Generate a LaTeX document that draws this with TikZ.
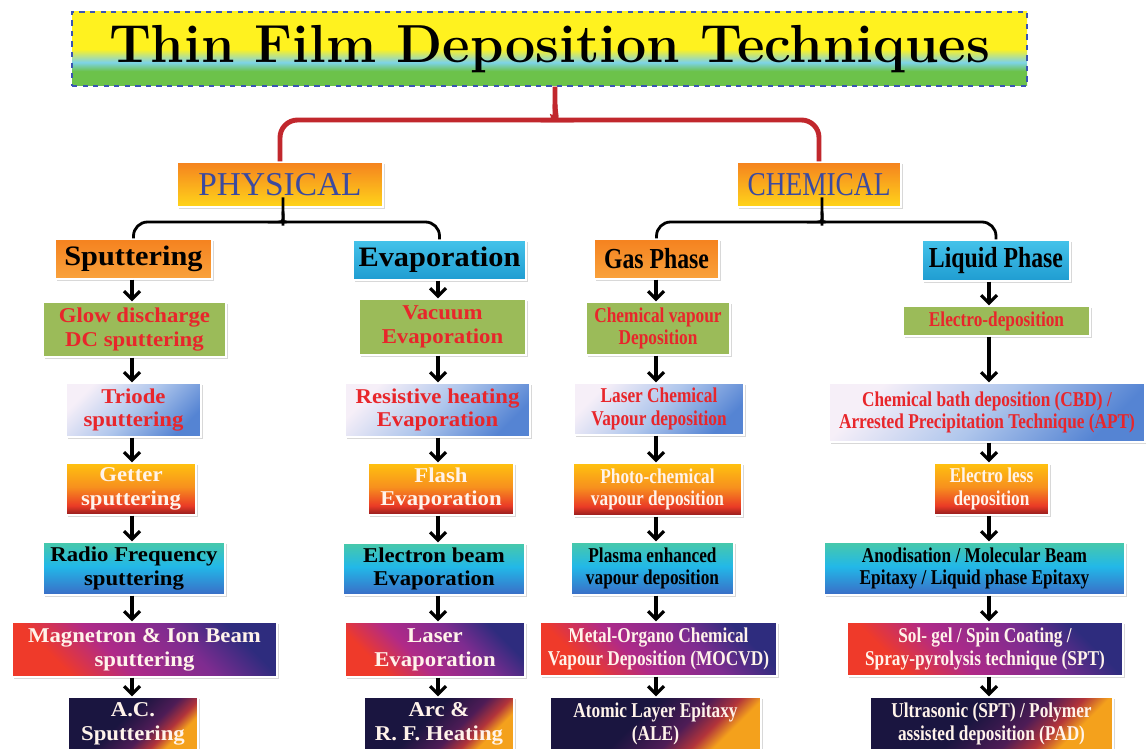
\documentclass[tikz,border=0pt]{standalone}
\usepackage{fontspec}
\newfontfamily\narrowfont[FakeStretch=0.82]{Liberation Serif}
\newfontfamily\widefont[FakeStretch=1.08]{Liberation Serif}
\newfontfamily\timesfont{Liberation Serif}
\usetikzlibrary{arrows.meta,shadows}

\definecolor{tyellow}{HTML}{FFF21F}
\definecolor{tcyan}{HTML}{7DD3E8}
\definecolor{tgreen}{HTML}{6CC24A}
\definecolor{titleblue}{HTML}{3A55B4}
\definecolor{bracered}{HTML}{C1272D}
\definecolor{horange}{HTML}{F5821F}
\definecolor{hyellow}{HTML}{FFD51A}
\definecolor{hlight}{HTML}{F9A23C}
\definecolor{hcyantop}{HTML}{45C3EA}
\definecolor{hcyanbot}{HTML}{1F9CD1}
\definecolor{headblue}{HTML}{3B4AA0}
\definecolor{leaf}{HTML}{9BBB59}
\definecolor{redtext}{HTML}{E8262B}
\definecolor{cream}{HTML}{FFF3EA}
\definecolor{lavwhite}{HTML}{F6EFF8}
\definecolor{lavmid}{HTML}{AFC6EC}
\definecolor{lavblue}{HTML}{5584D3}
\definecolor{hotdark}{HTML}{8E1B1E}
\definecolor{hotred}{HTML}{EA3B26}
\definecolor{hotorange}{HTML}{F7901E}
\definecolor{hotyellow}{HTML}{FFC20F}
\definecolor{cyblue}{HTML}{3B6CC6}
\definecolor{cycyan}{HTML}{22B8E8}
\definecolor{cyteal}{HTML}{48C9A9}
\definecolor{pred}{HTML}{EF3A2A}
\definecolor{pmag}{HTML}{B02A88}
\definecolor{pviolet}{HTML}{7E2C90}
\definecolor{pblue}{HTML}{2E2C7E}
\definecolor{dorange}{HTML}{F4A11C}
\definecolor{dred}{HTML}{B2343A}
\definecolor{dplum}{HTML}{4E1C56}
\definecolor{dnavy}{HTML}{1A1540}

\pgfdeclareverticalshading{titleshade}{100bp}{color(0bp)=(tgreen); color(35bp)=(tgreen); color(41bp)=(tcyan); color(50bp)=(tyellow); color(100bp)=(tyellow)}
\pgfdeclareverticalshading{lavshade}{100bp}{color(0bp)=(lavblue); color(25bp)=(lavblue); color(50bp)=(lavmid); color(75bp)=(lavwhite); color(100bp)=(lavwhite)}
\pgfdeclareverticalshading{hotshade}{100bp}{color(0bp)=(hotdark); color(25bp)=(hotdark); color(34bp)=(hotred); color(52bp)=(hotorange); color(75bp)=(hotyellow); color(100bp)=(hotyellow)}
\pgfdeclareverticalshading{cyanshade}{100bp}{color(0bp)=(cyblue); color(25bp)=(cyblue); color(52bp)=(cycyan); color(75bp)=(cyteal); color(100bp)=(cyteal)}
\pgfdeclareverticalshading{purpshade}{100bp}{color(0bp)=(pred); color(28bp)=(pred); color(42bp)=(pmag); color(60bp)=(pviolet); color(74bp)=(pblue); color(100bp)=(pblue)}
\pgfdeclareverticalshading{darkshade}{100bp}{color(0bp)=(dorange); color(28bp)=(dorange); color(34bp)=(dred); color(42bp)=(dplum); color(56bp)=(dnavy); color(100bp)=(dnavy)}

\tikzset{
	boxsize/.style 2 args={minimum width=#1*0.02cm,minimum height=#2*0.02cm},
	box/.style={draw=white,line width=0.8pt,inner sep=0pt,align=center,
		drop shadow={shadow xshift=1.2pt,shadow yshift=-1.2pt,fill=black!30}},
	lefttext/.style={font=\widefont\bfseries\fontsize{12}{13.5}\selectfont},
	righttext/.style={font=\narrowfont\bfseries\fontsize{12}{13}\selectfont},
	greenbox/.style={box,fill=leaf,text=redtext},
	lavbox/.style={box,shading=lavshade,shading angle=45,text=redtext},
	hotbox/.style={box,shading=hotshade,text=cream},
	cyanbox/.style={box,shading=cyanshade,text=black},
	purpbox/.style={box,shading=purpshade,shading angle=-45,text=cream},
	darkbox/.style={box,shading=darkshade,shading angle=45,text=cream},
	mainhead/.style={box,top color=horange,bottom color=hyellow,text=headblue},
	orangehead/.style={box,top color=horange,bottom color=hlight,text=black},
	cyanhead/.style={box,top color=hcyantop,bottom color=hcyanbot,text=black},
	arr/.style={line width=1.8pt,-{Straight Barb[length=4.5pt,width=9pt]}},
	redbrace/.style={draw=bracered,line width=2.8pt,rounded corners=10pt},
	blackbrace/.style={draw=black,line width=1.6pt,rounded corners=8pt}
}

\begin{document}
\begin{tikzpicture}[x=0.02cm,y=-0.02cm]
	\useasboundingbox[fill=white] (0,0) rectangle (1146,749);
	
	\node[draw=titleblue,dashed,line width=1.2pt,shading=titleshade,boxsize={955}{74},
		font=\bfseries\fontsize{30.5}{36}\selectfont] (title) at (549.5,49) {Thin Film Deposition Techniques};
	\node[mainhead,boxsize={206}{45},font=\timesfont\fontsize{19}{22}\selectfont] (physical) at (280,184.5) {PHYSICAL};
	\node[mainhead,boxsize={164}{45},font=\narrowfont\fontsize{19}{22}\selectfont] (chemical) at (819,184.5) {CHEMICAL};
	
	\node[orangehead,boxsize={157}{40},font=\widefont\bfseries\fontsize{16}{18}\selectfont] (sputtering) at (133.5,259) {Sputtering};
	\node[greenbox,lefttext,boxsize={183}{55}] (glow) at (134.5,329.5) {Glow discharge\\DC sputtering};
	\node[lavbox,lefttext,boxsize={135}{54}] (triode) at (133.5,410) {Triode\\sputtering};
	\node[hotbox,lefttext,boxsize={130}{52}] (getter) at (131,489) {Getter\\sputtering};
	\node[cyanbox,lefttext,boxsize={182}{53}] (rf) at (134,568.5) {Radio Frequency\\sputtering};
	\node[purpbox,lefttext,boxsize={265}{55}] (magnetron) at (144.5,649.5) {Magnetron \& Ion Beam\\sputtering};
	\node[darkbox,lefttext,boxsize={130}{54}] (acsp) at (133,724) {A.C.\\Sputtering};
	
	\node[cyanhead,boxsize={173}{40},font=\widefont\bfseries\fontsize{16}{18}\selectfont] (evaporation) at (439.5,260) {Evaporation};
	\node[greenbox,lefttext,boxsize={167}{56}] (vacuum) at (442.5,327) {Vacuum\\Evaporation};
	\node[lavbox,lefttext,boxsize={185}{54}] (resistive) at (437.5,410) {Resistive heating\\Evaporation};
	\node[hotbox,lefttext,boxsize={146}{52}] (flash) at (441,489) {Flash\\Evaporation};
	\node[cyanbox,lefttext,boxsize={182}{52}] (ebeam) at (434,569) {Electron beam\\Evaporation};
	\node[purpbox,lefttext,boxsize={180}{55}] (laser) at (435,649.5) {Laser\\Evaporation};
	\node[darkbox,lefttext,boxsize={150}{54}] (arc) at (439,724) {Arc \&\\R. F. Heating};
	
	\node[orangehead,boxsize={125}{40},font=\narrowfont\bfseries\fontsize{16.5}{19}\selectfont] (gasphase) at (656.5,259) {Gas Phase};
	\node[greenbox,righttext,boxsize={144}{53}] (cvd) at (658,328.5) {Chemical vapour\\Deposition};
	\node[lavbox,righttext,boxsize={170}{52}] (lcvd) at (659,409) {Laser Chemical\\Vapour deposition};
	\node[hotbox,righttext,boxsize={169}{53}] (pcvd) at (657.5,489.5) {Photo-chemical\\vapour deposition};
	\node[cyanbox,righttext,boxsize={163}{53}] (pecvd) at (652.5,568.5) {Plasma enhanced\\vapour deposition};
	\node[purpbox,righttext,boxsize={237}{54}] (mocvd) at (658.5,649) {Metal-Organo Chemical\\Vapour Deposition (MOCVD)};
	\node[darkbox,righttext,boxsize={211}{54}] (ale) at (655.5,724) {Atomic Layer Epitaxy\\(ALE)};
	
	\node[cyanhead,boxsize={148}{41},font=\narrowfont\bfseries\fontsize{16.5}{19}\selectfont] (liquidphase) at (996,260.5) {Liquid Phase};
	\node[greenbox,righttext,boxsize={187}{30}] (electrodep) at (996.5,321) {Electro-deposition};
	\node[lavbox,righttext,boxsize={316}{59}] (cbd) at (987,412.5) {Chemical bath deposition (CBD) /\\Arrested Precipitation Technique (APT)};
	\node[hotbox,righttext,boxsize={115}{52}] (electroless) at (991.5,489) {Electro less\\deposition};
	\node[cyanbox,righttext,boxsize={301}{53}] (anod) at (974.5,568.5) {Anodisation / Molecular Beam\\Epitaxy / Liquid phase Epitaxy};
	\node[purpbox,righttext,boxsize={276}{54}] (solgel) at (985,649) {Sol- gel / Spin Coating /\\Spray-pyrolysis technique (SPT)};
	\node[darkbox,righttext,boxsize={243}{54}] (ultra) at (991.5,724) {Ultrasonic (SPT) / Polymer\\assisted deposition (PAD)};
	
	\coordinate (rtip) at (555,120);
	\coordinate (ptip) at (283,222);
	\coordinate (ctip) at (822,222);
	\draw[redbrace] (physical.north) |- ([xshift=-9pt]rtip) .. controls +(7pt,0) and +(0,-6pt) .. ([yshift=9pt]rtip) -- (title.south -| rtip);
	\draw[redbrace] (chemical.north) |- ([xshift=9pt]rtip) .. controls +(-7pt,0) and +(0,-6pt) .. ([yshift=9pt]rtip);
	\draw[blackbrace] (sputtering.north) |- ([xshift=-6pt]ptip) .. controls +(5pt,0) and +(0,-4pt) .. ([yshift=6pt]ptip) -- (physical.south -| ptip);
	\draw[blackbrace] (evaporation.north) |- ([xshift=6pt]ptip) .. controls +(-5pt,0) and +(0,-4pt) .. ([yshift=6pt]ptip);
	\draw[blackbrace] (gasphase.north) |- ([xshift=-6pt]ctip) .. controls +(5pt,0) and +(0,-4pt) .. ([yshift=6pt]ctip) -- (chemical.south -| ctip);
	\draw[blackbrace] (liquidphase.north) |- ([xshift=6pt]ctip) .. controls +(-5pt,0) and +(0,-4pt) .. ([yshift=6pt]ctip);
	
	\coordinate (col1) at (132,0);
	\coordinate (col2) at (438,0);
	\coordinate (col3) at (656,0);
	\coordinate (col4) at (989,0);
	\foreach \a/\b in {sputtering/glow,glow/triode,triode/getter,getter/rf,rf/magnetron,magnetron/acsp}
		\draw[arr] (\a.south -| col1) -- (\b.north -| col1);
	\foreach \a/\b in {evaporation/vacuum,vacuum/resistive,resistive/flash,flash/ebeam,ebeam/laser,laser/arc}
		\draw[arr] (\a.south -| col2) -- (\b.north -| col2);
	\foreach \a/\b in {gasphase/cvd,cvd/lcvd,lcvd/pcvd,pcvd/pecvd,pecvd/mocvd,mocvd/ale}
		\draw[arr] (\a.south -| col3) -- (\b.north -| col3);
	\foreach \a/\b in {liquidphase/electrodep,electrodep/cbd,cbd/electroless,electroless/anod,anod/solgel,solgel/ultra}
		\draw[arr] (\a.south -| col4) -- (\b.north -| col4);
	
\end{tikzpicture}
\end{document}
